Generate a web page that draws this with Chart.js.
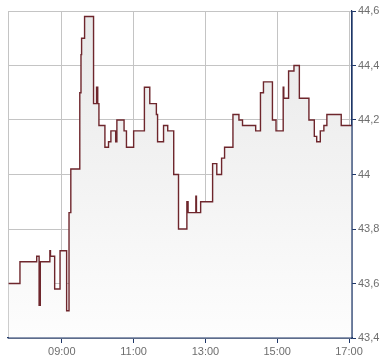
<!DOCTYPE html>
<html>
<head>
<meta charset="utf-8">
<script src="https://cdn.jsdelivr.net/npm/chart.js@4.4.1/dist/chart.umd.min.js"></script>
<style>
  body { margin: 0; background: #fff; }
  #wrap { width: 390px; height: 364px; position: relative; }
</style>
</head>
<body>
<div id="wrap"><canvas id="price-chart"></canvas></div>
<script>
// minutes since midnight, value holds until the next entry
const times = [451, 470, 498, 502, 504, 520, 521, 528, 537, 548, 552, 555, 570, 572, 573, 578,
  593, 598, 600, 602, 612, 618, 622, 630, 632, 644, 648, 660, 678, 687, 698, 700, 710, 717,
  727, 735, 749, 751, 764, 765, 772, 792, 799, 807, 812, 826, 836, 842, 864, 872, 877, 892,
  898, 910, 911, 919, 928, 937, 953, 962, 966, 972, 978, 983, 1007, 1025]
const prices = [43.6, 43.68, 43.7, 43.52, 43.68, 43.72, 43.7, 43.58, 43.72, 43.5, 43.86, 44.02,
  44.3, 44.44, 44.5, 44.58, 44.26, 44.32, 44.26, 44.18, 44.1, 44.12, 44.16, 44.12, 44.2, 44.16,
  44.1, 44.16, 44.32, 44.26, 44.22, 44.12, 44.18, 44.16, 44.0, 43.8, 43.9, 43.86, 43.92, 43.86,
  43.9, 44.04, 44.0, 44.06, 44.1, 44.22, 44.2, 44.18, 44.16, 44.3, 44.34, 44.2, 44.16, 44.32,
  44.28, 44.38, 44.4, 44.28, 44.2, 44.14, 44.12, 44.16, 44.18, 44.22, 44.18, 44.18]

const xTickValues = [540, 660, 780, 900, 1020]
const xTickLabels = ['09:00', '11:00', '13:00', '15:00', '17:00']
const yTickValues = [43.4, 43.6, 43.8, 44.0, 44.2, 44.4, 44.6]

const X_MIN = 450
const X_MAX = 1025
const GRID_COLOR = '#c4c4c4'
const AXIS_COLOR = '#1f3768'
const LABEL_COLOR = '#6e6e6e'

const points = times.map((t, i) => ({ x: t, y: prices[i] }))

const fillGradient = context => {
  const area = context.chart.chartArea
  if (!area) return '#f2f2f2'
  const g = context.chart.ctx.createLinearGradient(0, area.top, 0, area.bottom)
  g.addColorStop(0, '#e8e8e8')
  g.addColorStop(1, '#fdfdfd')
  return g
}

// the fill covers the axis lines, so put them back on top
const axisOnTop = {
  id: 'axisOnTop',
  afterDatasetsDraw: chart => {
    const { ctx, chartArea: a } = chart
    ctx.save()
    ctx.strokeStyle = AXIS_COLOR
    ctx.lineWidth = 1.2
    ctx.beginPath()
    ctx.moveTo(a.left, a.bottom)
    ctx.lineTo(a.right, a.bottom)
    ctx.moveTo(a.right, a.top)
    ctx.lineTo(a.right, a.bottom)
    ctx.stroke()
    ctx.restore()
  },
}

const ctxPrice = document.getElementById('price-chart').getContext('2d')
const priceChart = new Chart(ctxPrice, {
  type: 'line',
  data: {
    datasets: [
      {
        data: points,
        stepped: true,
        borderColor: '#6e262c',
        borderWidth: 1.4,
        backgroundColor: fillGradient,
        fill: 'start',
        pointRadius: 0,
        tension: 0,
      },
    ],
  },
  options: {
    responsive: true,
    maintainAspectRatio: false,
    animation: false,
    layout: { padding: { left: 8, top: 11, right: 0, bottom: 0 } },
    plugins: { legend: { display: false }, tooltip: { enabled: false } },
    scales: {
      x: {
        type: 'linear',
        min: X_MIN,
        max: X_MAX,
        afterBuildTicks: scale => {
          scale.ticks = [X_MIN].concat(xTickValues).map(v => ({ value: v }))
        },
        afterFit: scale => {
          scale.height = 26
        },
        grid: {
          color: GRID_COLOR,
          tickLength: 5,
          tickColor: ctx => (ctx.index === 0 ? 'rgba(0,0,0,0)' : AXIS_COLOR),
        },
        border: { color: AXIS_COLOR, width: 1.2 },
        ticks: {
          autoSkip: false,
          maxRotation: 0,
          padding: 2,
          color: LABEL_COLOR,
          font: { family: 'Liberation Sans', size: 11 },
          callback: value => {
            const i = xTickValues.indexOf(value)
            return i < 0 ? '' : xTickLabels[i]
          },
        },
      },
      y: {
        position: 'right',
        min: 43.4,
        max: 44.6,
        afterBuildTicks: scale => {
          scale.ticks = yTickValues.map(v => ({ value: v }))
        },
        afterFit: scale => {
          scale.width = 38
        },
        grid: { color: GRID_COLOR, tickLength: 4, tickColor: AXIS_COLOR },
        border: { color: AXIS_COLOR, width: 1.2 },
        ticks: {
          padding: 2,
          color: LABEL_COLOR,
          font: { family: 'Liberation Sans', size: 11 },
          callback: value => String(Number(value.toFixed(1))).replace('.', ','),
        },
      },
    },
  },
  plugins: [axisOnTop],
})
</script>
</body>
</html>
